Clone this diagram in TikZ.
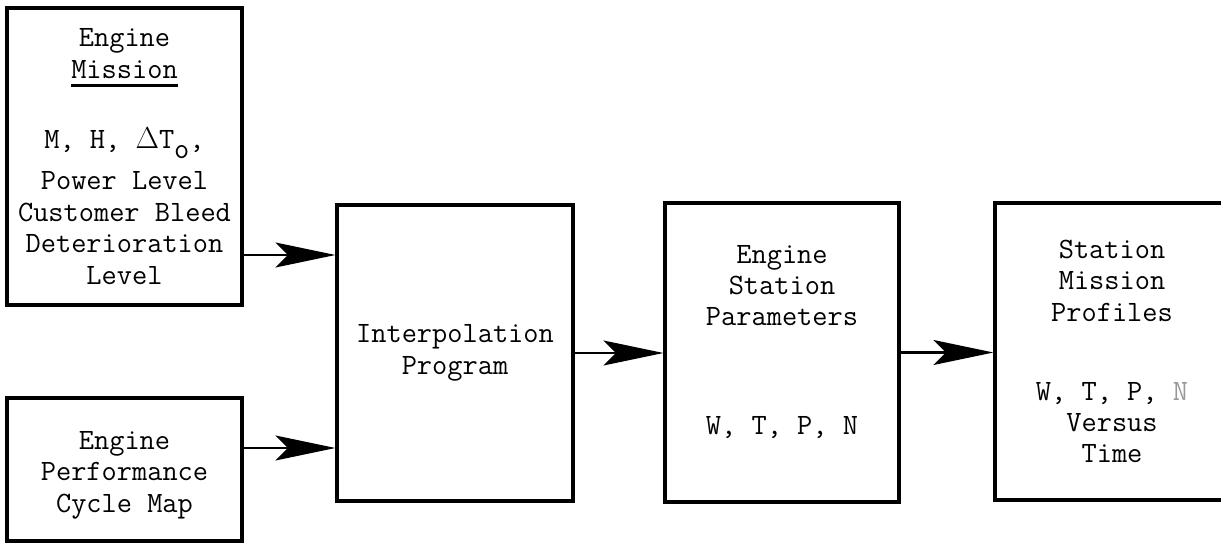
\documentclass[tikz,border=0pt]{standalone}
\usepackage{fontspec}
\usetikzlibrary{arrows.meta}
% heavy typewriter underline
\newsavebox{\ulbox}
\newcommand{\thickul}[1]{\sbox{\ulbox}{#1}\rlap{\rule[-5pt]{\wd\ulbox}{1.6pt}}\usebox{\ulbox}}

\begin{document}
\begin{tikzpicture}[
  blk/.style={draw, line width=1.8pt, align=center, inner sep=0pt,
    font=\fontsize{16.8}{17.9}\selectfont\ttfamily\addfontfeatures{FakeBold=0.8}},
  feed/.style={line width=1.2pt, -{Stealth[length=1.2cm,width=0.5cm,inset=0.25cm]}}]
 \clip (0,0) rectangle (24.42,10.88);
 % inputs
 \node[blk, minimum width=4.7cm, minimum height=5.94cm] (mission) at (2.49,7.75)
  {Engine\\ \thickul{Mission}\\[0.79cm]
   M, H, $\Delta$T\raisebox{-0.32em}{o},\\[0.19cm]
   Power Level\\ Customer Bleed\\ Deterioration\\ Level};
 \node[blk, minimum width=4.7cm, minimum height=2.86cm] (cycmap) at (2.49,1.49)
  {\rule{0pt}{0.58cm}Engine\\ Performance\\ Cycle Map};
 % processing chain
 \node[blk, minimum width=4.72cm, minimum height=5.92cm] (interp) at (9.1,3.82)
  {Interpolation\\ Program};
 \node[blk, minimum width=4.68cm, minimum height=5.98cm] (params) at (15.64,3.83)
  {Engine\\ Station\\ Parameters\\[1.55cm] W, T, P, N\rule[-0.5cm]{0pt}{0pt}};
 \node[blk, minimum width=4.68cm, minimum height=5.94cm] (profiles) at (22.24,3.85)
  {Station\\ Mission\\ Profiles\\[0.95cm] W, T, P, {\color{black!40}N}\\ Versus\\ Time};
 % arrows
 \coordinate (in1) at (0,5.78);
 \coordinate (in2) at (0,1.92);
 \draw[feed] (mission.east |- in1) -- (interp.west |- in1);
 \draw[feed] (cycmap.east |- in2) -- (interp.west |- in2);
 \draw[feed] (interp.east) -- (interp.east -| params.west);
 \draw[feed] (params.east) -- (params.east -| profiles.west);
\end{tikzpicture}
\end{document}
